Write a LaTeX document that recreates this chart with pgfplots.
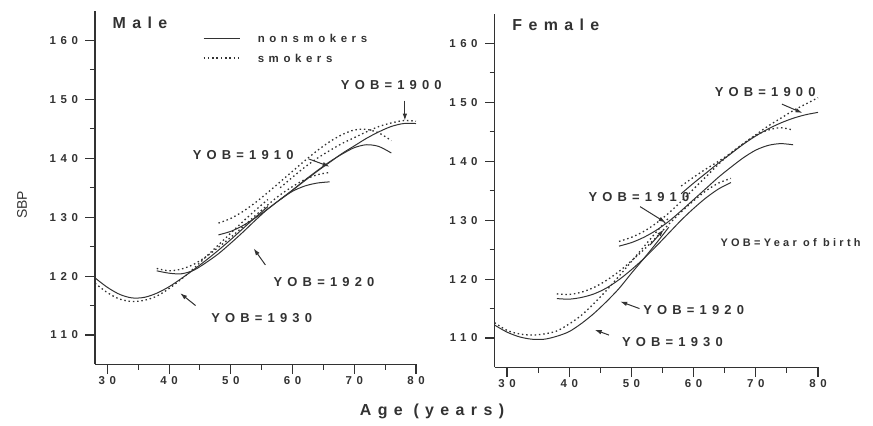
\documentclass[border=0pt]{standalone}
\usepackage{pgfplots}
\pgfplotsset{compat=1.18}
\usepackage{fontspec}
\setmainfont{Liberation Sans}
\newfontfamily\spfont{Liberation Sans}[LetterSpace=40]
\newfontfamily\spsmall{Liberation Sans}[LetterSpace=30]
\usetikzlibrary{arrows.meta}
\definecolor{ink}{RGB}{50,50,50}
\newcommand{\tickf}{\spfont\bfseries\fontsize{11.5}{12}\selectfont}
\newcommand{\annf}{\spfont\bfseries\fontsize{13}{14}\selectfont}
\newcommand{\legf}{\spfont\bfseries\fontsize{11.5}{12}\selectfont}
\newcommand{\titf}{\spfont\bfseries\fontsize{16}{17}\selectfont}
\pgfplotsset{
  panel/.style={
    scale only axis, xmin=28, xmax=80, ymin=105, ymax=165,
    axis x line*=bottom, axis y line*=left,
    xtick={30,40,...,80}, ytick={110,120,...,160},
    minor x tick num=1, minor y tick num=1,
    tick align=outside, major tick length=9.5bp, minor tick length=5bp,
    axis line style={line width=1.3pt, ink},
    every tick/.style={line width=1.1pt, ink},
    tick label style={font=\tickf, text=ink},
    yticklabel style={xshift=-4bp},
    xticklabel style={yshift=1bp},
    /pgf/number format/assume math mode=true,
    clip=false,
  },
}
\tikzset{
  ns/.style={smooth, solid, line width=1pt, ink},
  sm/.style={smooth, line width=1.3pt, ink, dash pattern=on 1.5pt off 2.8pt},
  arr/.style={-{Latex[length=7pt,width=4.5pt]}, line width=1pt, ink},
}
\begin{document}
\begin{tikzpicture}
\useasboundingbox (0,0) rectangle (873bp,426bp);
% ---------------- Male ----------------
\begin{axis}[panel, at={(95bp,61.5bp)}, anchor=south west, width=321bp, height=353.5bp]
% 1930
\addplot[ns] coordinates {(28,119.7)(30,118.1)(32,116.9)(34,116.3)(36,116.4)(38,117.1)(40,118.2)(42,119.6)(44,121.1)(46,122.7)(48,124.4)(50,126.2)(52,128.1)(54,130.0)(56,131.8)};
\addplot[sm] coordinates {(28,118.8)(30,117.2)(32,116.1)(34,115.7)(36,115.9)(38,116.6)(40,117.9)(42,119.5)(44,121.3)(46,123.3)(48,125.3)(50,127.3)(52,129.3)(54,131.2)(56,133.0)};
% 1920
\addplot[ns] coordinates {(38,120.9)(40,120.5)(42,120.4)(44,121.0)(46,122.3)(48,123.8)(50,125.6)(52,127.5)(54,129.5)(56,131.4)(58,133.0)(60,134.4)(62,135.3)(64,135.8)(66,136.0)};
\addplot[sm] coordinates {(38,121.3)(40,120.9)(42,121.2)(44,122.0)(46,123.3)(48,124.9)(50,126.6)(52,128.4)(54,130.3)(56,132.1)(58,133.8)(60,135.2)(62,136.4)(64,137.2)(66,137.6)};
% 1910
\addplot[ns] coordinates {(48,127.0)(50,127.6)(52,128.6)(54,129.9)(56,131.4)(58,133.0)(60,134.6)(62,136.3)(64,137.9)(66,139.4)(68,140.7)(70,141.8)(72,142.3)(74,142.0)(76,140.9)};
\addplot[sm] coordinates {(48,129.0)(50,129.8)(52,131.0)(54,132.5)(56,134.2)(58,136.0)(60,137.8)(62,139.6)(64,141.3)(66,142.8)(68,144.0)(70,144.8)(72,144.9)(74,144.3)(76,143.0)};
% 1900
\addplot[ns] coordinates {(58,133.0)(60,134.6)(62,136.2)(64,137.8)(66,139.3)(68,140.8)(70,142.1)(72,143.4)(74,144.5)(76,145.4)(78,145.9)(80,145.9)};
\addplot[sm] coordinates {(58,135.0)(60,136.8)(62,138.5)(64,140.0)(66,141.3)(68,142.5)(70,143.5)(72,144.5)(74,145.4)(76,146.0)(78,146.4)(80,146.3)};
% title and legend
\node[anchor=west, font=\titf, text=ink] at (axis cs:30.3,163.0) {Male};
\draw[ns] (axis cs:45.6,160.4) -- (axis cs:51.5,160.4);
\draw[sm] (axis cs:45.6,157.0) -- (axis cs:51.7,157.0);
\node[anchor=west, font=\legf, text=ink] at (axis cs:53.8,160.4) {nonsmokers};
\node[anchor=west, font=\legf, text=ink] at (axis cs:53.8,157.0) {smokers};
% annotations
\node[font=\annf, text=ink] at (axis cs:76.0,152.4) {YOB=1900};
\draw[arr] (axis cs:78.2,149.8) -- (axis cs:78.2,146.4);
\node[font=\annf, text=ink] at (axis cs:52.0,140.6) {YOB=1910};
\draw[arr] (axis cs:62.6,139.9) -- (axis cs:66.0,138.6);
\node[font=\annf, text=ink] at (axis cs:65.1,119.0) {YOB=1920};
\draw[arr] (axis cs:55.6,121.9) -- (axis cs:53.7,124.7);
\node[font=\annf, text=ink] at (axis cs:55.0,112.9) {YOB=1930};
\draw[arr] (axis cs:44.3,115.0) -- (axis cs:41.8,117.1);
\end{axis}
% ---------------- Female ----------------
\begin{axis}[panel, at={(494.6bp,58.5bp)}, anchor=south west, width=323.4bp, height=353.5bp]
% 1930
\addplot[ns] coordinates {(28,112.2)(30,111.0)(32,110.2)(34,109.8)(36,109.8)(38,110.3)(40,111.1)(42,112.5)(44,114.2)(46,116.2)(48,118.4)(50,121.0)(52,123.5)(54,126.1)(56,128.8)};
\addplot[sm] coordinates {(28,112.6)(30,111.3)(32,110.7)(34,110.5)(36,110.7)(38,111.2)(40,112.4)(42,113.9)(44,115.9)(46,118.1)(48,120.5)(50,123.0)(52,125.5)(54,128.0)(56,130.4)};
% 1920
\addplot[ns] coordinates {(38,116.7)(40,116.6)(42,116.9)(44,117.5)(46,118.5)(48,119.9)(50,121.6)(52,123.5)(54,125.6)(56,127.8)(58,130.0)(60,132.0)(62,133.8)(64,135.3)(66,136.4)};
\addplot[sm] coordinates {(38,117.5)(40,117.4)(42,117.8)(44,118.6)(46,119.8)(48,121.3)(50,123.1)(52,125.0)(54,127.1)(56,129.3)(58,131.4)(60,133.3)(62,135.0)(64,136.3)(66,137.1)};
% 1910
\addplot[ns] coordinates {(48,125.6)(50,126.2)(52,127.1)(54,128.3)(56,129.8)(58,131.6)(60,133.5)(62,135.4)(64,137.3)(66,139.0)(68,140.6)(70,141.9)(72,142.7)(74,143.0)(76,142.8)};
\addplot[sm] coordinates {(48,126.4)(50,127.1)(52,128.1)(54,129.5)(56,131.2)(58,133.2)(60,135.3)(62,137.4)(64,139.5)(66,141.4)(68,143.0)(70,144.4)(72,145.3)(74,145.7)(76,145.3)};
% 1900
\addplot[ns] coordinates {(58,134.5)(60,136.3)(62,138.0)(64,139.7)(66,141.3)(68,142.9)(70,144.3)(72,145.5)(74,146.5)(76,147.3)(78,147.9)(80,148.3)};
\addplot[sm] coordinates {(58,135.8)(60,137.3)(62,138.7)(64,140.0)(66,141.4)(68,143.0)(70,144.5)(72,146.0)(74,147.3)(76,148.6)(78,149.7)(80,150.8)};
\node[anchor=west, font=\titf, text=ink] at (axis cs:30.3,163.1) {Female};
% annotations
\node[font=\annf, text=ink] at (axis cs:71.5,151.8) {YOB=1900};
\draw[arr] (axis cs:74.2,149.7) -- (axis cs:77.5,148.2);
\node[font=\annf, text=ink] at (axis cs:51.2,134.0) {YOB=1910};
\draw[arr] (axis cs:51.4,132.3) -- (axis cs:55.5,129.6);
\draw[arr] (axis cs:53.0,125.8) -- (axis cs:55.2,128.4);
\node[anchor=west, inner sep=0pt, font=\spsmall\bfseries\fontsize{11}{12}\selectfont, text=ink] at (axis cs:64.3,126.2) {YOB=Year of birth};
\node[font=\annf, text=ink] at (axis cs:60.0,114.75) {YOB=1920};
\draw[arr] (axis cs:51.3,115.0) -- (axis cs:48.2,116.2);
\node[font=\annf, text=ink] at (axis cs:56.6,109.4) {YOB=1930};
\draw[arr] (axis cs:46.4,110.5) -- (axis cs:44.1,111.4);
\end{axis}
\node[rotate=90, font=\fontsize{14}{15}\selectfont, text=ink] at (22bp,221bp) {SBP};
\node[font=\spfont\bfseries\fontsize{16}{17}\selectfont, text=ink] at (432bp,15bp) {Age (years)};
\end{tikzpicture}
\end{document}
